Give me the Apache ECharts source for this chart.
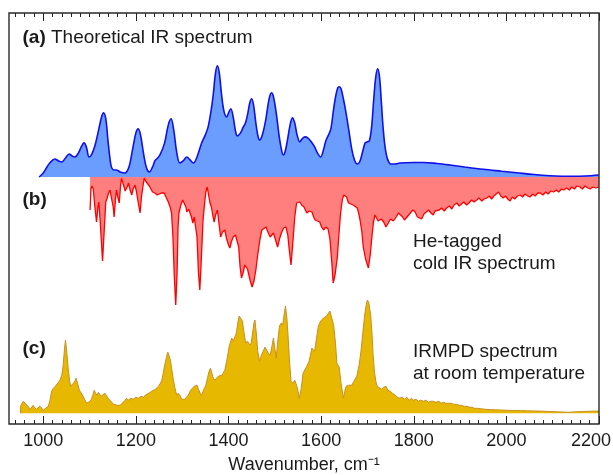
<!DOCTYPE html>
<html><head><meta charset="utf-8">
<script src="https://cdn.jsdelivr.net/npm/echarts@6/dist/echarts.min.js"></script>
<style>html,body{margin:0;padding:0;background:#fff}#c{width:613px;height:475px}</style>
</head><body><div id="c"></div>
<script>
// Wavenumber axis ticks (cm^-1)
const majorTicks = [1000, 1200, 1400, 1600, 1800, 2000, 2200];

// (a) Theoretical IR spectrum: [wavenumber, intensity a.u.]
const theory = [[991,0],[1000,4],[1008,10],[1014,14],[1025,18],[1033,16],[1040,15],[1048,19],[1056,23],[1062,21],[1068,20],[1076,24],[1082,30],[1088,34],[1093,30],[1099,20],[1104,22],[1112,32],[1120,48],[1126,60],[1130,64],[1135,58],[1140,35],[1145,15],[1148,9],[1153,7],[1158,7],[1166,5],[1176,4],[1185,10],[1193,28],[1200,44],[1205,48],[1210,42],[1217,22],[1223,9],[1229,5],[1236,10],[1241,16],[1245,18],[1252,22],[1262,34],[1270,52],[1276,58],[1282,46],[1288,25],[1295,14],[1302,16],[1310,20],[1317,17],[1324,14],[1332,20],[1342,34],[1350,42],[1356,50],[1362,65],[1367,82],[1372,104],[1376,111],[1380,104],[1385,82],[1390,66],[1396,60],[1401,65],[1405,68],[1410,60],[1415,46],[1419,41],[1426,44],[1432,50],[1436,53],[1441,62],[1446,74],[1450,78],[1454,72],[1459,54],[1463,42],[1467,37],[1473,42],[1480,56],[1486,74],[1490,82],[1493,84],[1497,80],[1503,64],[1509,42],[1514,28],[1518,22],[1522,25],[1527,36],[1533,52],[1538,59],[1543,54],[1548,42],[1554,35],[1559,38],[1565,40],[1571,39],[1579,35],[1586,30],[1592,24],[1599,20],[1605,27],[1610,36],[1616,42],[1621,48],[1627,68],[1632,82],[1636,89],[1639,90],[1643,88],[1648,78],[1653,66],[1660,46],[1666,28],[1672,17],[1678,13],[1684,16],[1690,26],[1695,34],[1699,35],[1704,36],[1709,50],[1714,80],[1718,100],[1722,108],[1726,100],[1730,75],[1734,48],[1738,30],[1742,20],[1746,15],[1750,13],[1760,13],[1770,14],[1800,14.5],[1821,14.5],[1850,13.5],[1878,12],[1910,10],[1950,7.7],[1990,5.8],[2022,4.3],[2060,2.5],[2094,1.3],[2120,0.8],[2145,0.7],[2170,1],[2200,2]];

// (b) He-tagged cold IR spectrum (depletion, plotted downward): [wavenumber, signal a.u.]
const cold = [[1101,33],[1103,12],[1105,9],[1108,12],[1111,28],[1115,45],[1118,30],[1120,25],[1123,45],[1128,84],[1132,50],[1135,25],[1138,21],[1141,16],[1144,13],[1146,18],[1148,16],[1151,30],[1153,40],[1156,22],[1158,13],[1161,20],[1164,26],[1167,8],[1169,1.5],[1172,6],[1174,8],[1177,14],[1179,16],[1182,9],[1184,6],[1187,12],[1191,18],[1194,12],[1198,8],[1201,14],[1203,20],[1206,28],[1209,36],[1212,20],[1215,10],[1218,1],[1221,4],[1225,3],[1229,9],[1232,11],[1236,15],[1241,16],[1246,18],[1250,16],[1255,16],[1261,16],[1265,20],[1270,25],[1274,30],[1277,36],[1280,60],[1283,100],[1286,128],[1289,95],[1291,50],[1293,36],[1297,28],[1301,23],[1305,27],[1308,30],[1310,35],[1314,32],[1317,33],[1320,40],[1323,46],[1326,40],[1328,38],[1332,60],[1335,95],[1338,113],[1341,85],[1345,43],[1348,28],[1351,15],[1354,10],[1357,18],[1360,26],[1363,30],[1366,38],[1369,45],[1372,38],[1376,33],[1379,45],[1383,60],[1387,55],[1392,53],[1396,62],[1400,68],[1403,71],[1406,65],[1410,60],[1415,58],[1419,57],[1422,70],[1425,90],[1428,101],[1432,95],[1435,88],[1438,87],[1441,92],[1443,96],[1447,104],[1451,110],[1455,104],[1459,93],[1463,78],[1468,62],[1472,53],[1476,52],[1481,50],[1485,55],[1490,60],[1494,58],[1497,56],[1501,62],[1506,70],[1510,62],[1515,55],[1519,51],[1524,50],[1528,58],[1531,72],[1535,88],[1539,65],[1543,40],[1547,26],[1551,25],[1554,25],[1558,28],[1563,30],[1566,28],[1569,36],[1574,34],[1580,35],[1584,40],[1587,43],[1592,44],[1597,45],[1601,50],[1606,53],[1610,50],[1615,52],[1619,62],[1623,85],[1626,106],[1630,98],[1635,80],[1638,60],[1642,36],[1646,22],[1649,18],[1652,16],[1655,20],[1659,26],[1664,27],[1669,28],[1673,30],[1678,31],[1681,36],[1684,43],[1688,55],[1691,70],[1696,82],[1702,91],[1706,78],[1710,58],[1713,45],[1716,38],[1720,40],[1723,44],[1726,46],[1730,42],[1735,45],[1740,50],[1745,46],[1750,42],[1756,44],[1762,40],[1767,36],[1771,35],[1776,40],[1780,43],[1784,42],[1789,38],[1793,36],[1798,33],[1803,35],[1808,40],[1812,38],[1817,42],[1822,37],[1827,35],[1832,33],[1837,36],[1842,38],[1846,34],[1850,36],[1855,33],[1860,31],[1866,34],[1871,31],[1877,29],[1882,32],[1887,28],[1893,26],[1898,29],[1903,27],[1908,25],[1914,28],[1919,26],[1925,23],[1930,25],[1936,23],[1941,21],[1947,24],[1952,22],[1958,21],[1963,19],[1968,22],[1973,19],[1978,17],[1983,15],[1988,19],[1993,21],[1998,19],[2003,22],[2008,24],[2013,20],[2018,22],[2024,19],[2030,18],[2035,20],[2040,17],[2046,19],[2051,20],[2057,17],[2062,19],[2068,16],[2073,16],[2079,18],[2085,15],[2090,17],[2096,14],[2102,15],[2108,13],[2113,15],[2119,12],[2124,13],[2130,11],[2136,13],[2141,10],[2147,12],[2152,9],[2159,10],[2164,12],[2170,9],[2176,11],[2181,12],[2187,10],[2193,11],[2200,10]];

// (c) IRMPD spectrum at room temperature: [wavenumber, yield a.u.]
const irmpd = [[951,0],[951,7],[954,10],[957,12],[961,10],[965,8],[968,7],[972,4],[975,3],[978,8],[981,6],[985,4],[989,5],[993,7],[997,5],[1000,3],[1005,5],[1011,7],[1015,14],[1018,22],[1022,25],[1026,27],[1029,28],[1033,31],[1036,33],[1040,38],[1043,48],[1046,65],[1048,73],[1051,60],[1054,44],[1057,32],[1059,27],[1062,28],[1065,30],[1068,32],[1071,35],[1074,30],[1078,23],[1081,22],[1085,18],[1089,14],[1094,10],[1098,10],[1101,12],[1104,14],[1107,18],[1110,23],[1113,20],[1116,18],[1119,21],[1122,20],[1125,17],[1129,18],[1133,20],[1136,18],[1140,15],[1144,13],[1148,11],[1152,9],[1155,8],[1160,8],[1166,8],[1170,10],[1175,12],[1180,15],[1184,13],[1188,15],[1191,16],[1195,14],[1199,16],[1202,16],[1206,15],[1210,17],[1213,18],[1217,16],[1220,18],[1224,19],[1228,20],[1231,20],[1234,22],[1238,23],[1242,24],[1245,25],[1249,27],[1253,30],[1256,33],[1259,40],[1261,45],[1264,52],[1267,58],[1269,61],[1272,57],[1275,52],[1278,42],[1281,33],[1284,26],[1288,18],[1291,20],[1295,18],[1299,14],[1302,13],[1306,14],[1309,16],[1313,18],[1317,22],[1320,24],[1323,25],[1326,27],[1329,26],[1332,28],[1335,24],[1339,20],[1342,18],[1345,22],[1348,25],[1351,28],[1355,36],[1358,42],[1361,45],[1364,40],[1367,35],[1371,33],[1374,35],[1378,37],[1382,36],[1386,38],[1389,38],[1392,43],[1396,52],[1399,60],[1402,68],[1405,72],[1407,75],[1410,72],[1414,72],[1417,80],[1420,90],[1423,97],[1426,96],[1430,92],[1433,82],[1437,70],[1441,72],[1446,68],[1449,70],[1452,80],[1455,90],[1457,93],[1460,80],[1463,62],[1467,52],[1471,58],[1475,62],[1479,66],[1482,65],[1486,60],[1490,58],[1493,65],[1497,75],[1500,65],[1503,55],[1506,70],[1510,87],[1514,90],[1517,88],[1520,98],[1523,107],[1526,95],[1529,74],[1532,50],[1535,32],[1539,30],[1543,33],[1547,28],[1550,22],[1553,15],[1557,25],[1561,40],[1565,40],[1569,47],[1574,52],[1580,65],[1583,64],[1586,62],[1590,75],[1594,87],[1599,92],[1605,95],[1609,96],[1612,97],[1616,100],[1619,102],[1623,95],[1627,88],[1631,70],[1634,50],[1639,46],[1643,30],[1648,15],[1651,22],[1654,27],[1660,28],[1666,28],[1671,32],[1677,37],[1682,48],[1686,62],[1690,80],[1694,98],[1698,110],[1700,113],[1703,110],[1707,98],[1710,78],[1712,60],[1715,42],[1718,32],[1721,27],[1725,26],[1730,24],[1735,26],[1740,27],[1744,23],[1749,22],[1754,20],[1760,18],[1765,16],[1770,15],[1775,16],[1780,14],[1785,16],[1790,13],[1795,15],[1799,13],[1805,14],[1810,12],[1815,13],[1821,12],[1826,13],[1832,11],[1837,12],[1842,12],[1848,11],[1854,12],[1859,10],[1864,11],[1870,10],[1876,10],[1881,10],[1886,9],[1892,9],[1898,8],[1903,8],[1909,7],[1915,7],[1920,6],[1926,6],[1931,5],[1937,5],[1945,4.5],[1955,4],[1965,3.6],[1975,3.5],[1985,3.3],[2000,3],[2015,2.8],[2030,2.7],[2045,2.5],[2060,2.3],[2075,2.2],[2090,1.8],[2105,1.6],[2120,1.3],[2135,1],[2150,1.5],[2165,1.8],[2180,2],[2200,2.3]];

const norm = arr => { const m = Math.max(...arr.map(p => p[1])); return arr.map(p => [p[0], p[1] / m]); };

const minorTicks = [];
for (let v = 940; v <= 2200; v += 20) if (v % 200 !== 0) minorTicks.push(v);

const XMIN = 926, XMAX = 2200;
const FONT = '"Liberation Sans", Arial, sans-serif';
const L = 9, R = 14;

const chart = echarts.init(document.getElementById('c'), null, {renderer: 'canvas'});
const hiddenX = gi => ({type: 'value', gridIndex: gi, min: XMIN, max: XMAX, show: false});
const hiddenY = (gi, inv) => ({type: 'value', gridIndex: gi, min: 0, max: 1, show: false, inverse: !!inv});
const tickAxis = (pos, vals, len, labels) => ({
  type: 'value', gridIndex: 3, position: pos, min: XMIN, max: XMAX,
  axisLine: {show: false}, splitLine: {show: false},
  axisTick: {show: true, inside: true, length: len, customValues: vals, lineStyle: {color: '#222', width: 1}},
  axisLabel: labels ? {
    show: true, customValues: vals, margin: 8, fontSize: 18, color: '#1a1a1a', fontFamily: FONT,
    formatter: v => v === 2200 ? '{r|2200}' : String(v),
    rich: {r: {fontSize: 18, color: '#1a1a1a', fontFamily: FONT, padding: [0, 16, 0, 0]}}
  } : {show: false},
  name: labels ? 'Wavenumber, cm\u207B\u00B9' : '',
  nameLocation: 'middle', nameGap: 32,
  nameTextStyle: {fontSize: 18, color: '#1a1a1a', fontFamily: FONT}
});
const G = {left: L, right: R, outerBoundsMode: 'none', containLabel: false};

chart.setOption({
  animation: false,
  backgroundColor: '#fff',
  grid: [
    Object.assign({top: 65.7, bottom: 475 - 177}, G),
    Object.assign({top: 177, bottom: 475 - 305}, G),
    Object.assign({top: 300, bottom: 475 - 413.3}, G),
    Object.assign({top: 13, bottom: 51, show: true, borderColor: '#2a2a2a', borderWidth: 1.4, backgroundColor: 'transparent', z: 10}, G)
  ],
  xAxis: [
    tickAxis('bottom', minorTicks, 4, false),
    tickAxis('bottom', majorTicks, 8, true),
    tickAxis('top', minorTicks, 4, false),
    tickAxis('top', majorTicks, 8, false),
    hiddenX(0), hiddenX(1), hiddenX(2)
  ],
  yAxis: [hiddenY(0), hiddenY(1, true), hiddenY(2), hiddenY(3)],
  series: [
    {type: 'line', xAxisIndex: 5, yAxisIndex: 1, data: norm(cold), showSymbol: false, clip: false,
     lineStyle: {color: '#ff0000', width: 1.3}, areaStyle: {color: '#ff7f7f', opacity: 1, origin: 0}, z: 2},
    {type: 'line', xAxisIndex: 4, yAxisIndex: 0, data: norm(theory), showSymbol: false, clip: false, smooth: 0.35,
     lineStyle: {color: '#1010e8', width: 1.6}, areaStyle: {color: '#6b9dff', opacity: 1, origin: 0}, z: 3},
    {type: 'line', xAxisIndex: 6, yAxisIndex: 2, data: norm(irmpd), showSymbol: false, clip: false,
     lineStyle: {color: '#c98f22', width: 1}, areaStyle: {color: '#e6b800', opacity: 1, origin: 0}, z: 2}
  ],
  graphic: [
    {type: 'text', left: 22.5, top: 28.5, style: {text: '{b|(a)} Theoretical IR spectrum', font: '19px ' + FONT, fill: '#1a1a1a',
      rich: {b: {fontWeight: 'bold', fontSize: 19, fontFamily: FONT, fill: '#1a1a1a'}}}},
    {type: 'text', left: 22.5, top: 190, style: {text: '(b)', font: 'bold 19px ' + FONT, fill: '#1a1a1a'}},
    {type: 'text', left: 22.5, top: 339.5, style: {text: '(c)', font: 'bold 19px ' + FONT, fill: '#1a1a1a'}},
    {type: 'text', left: 413, top: 230, style: {text: 'He-tagged\ncold IR spectrum', font: '19px ' + FONT, lineHeight: 22.7, fill: '#1a1a1a'}},
    {type: 'text', left: 413, top: 340, style: {text: 'IRMPD spectrum\nat room temperature', font: '19px ' + FONT, lineHeight: 22.7, fill: '#1a1a1a'}}
  ]
});
</script></body></html>
